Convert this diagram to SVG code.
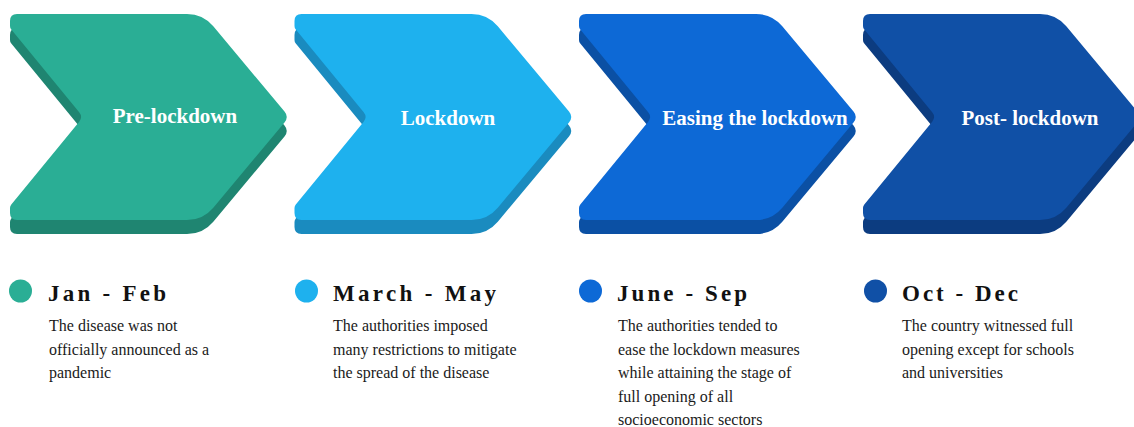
<svg xmlns="http://www.w3.org/2000/svg" xmlns:xlink="http://www.w3.org/1999/xlink" width="1134" height="427" viewBox="0 0 1134 427">
  <style>
    .title { font-family: "Liberation Serif", "Times New Roman", serif; font-weight: bold; font-size: 21px; fill: #ffffff; text-anchor: middle; }
    .head { font-family: "Liberation Serif", "Times New Roman", serif; font-weight: bold; font-size: 23px; fill: #111111; }
    .desc { font-family: "Liberation Serif", "Times New Roman", serif; font-size: 16px; fill: #1a1a1a; }
  </style>
  <defs>
    <path id="chev" d="M7,0 H177 Q193,0 203.3,12.3 L274.5,97.6 Q279,103 274.5,108.4 L203.3,193.7 Q193,206 177,206 H7 Q0,206 0,199 V194 Q0,192 1.3,190.4 L69.2,107.7 Q73,103 69.2,98.3 L1.3,15.6 Q0,14 0,12 V7 Q0,0 7,0 Z"/>
  </defs>
  <rect width="1134" height="427" fill="#ffffff"/>

  <g id="stage1">
    <use xlink:href="#chev" href="#chev" transform="translate(10,28)" fill="#1F8571"/>
    <use xlink:href="#chev" href="#chev" transform="translate(10,14)" fill="#2AAE95"/>
    <text class="title" x="175" y="123">Pre-lockdown</text>
    <circle cx="20.5" cy="291" r="11.5" fill="#2AAE95"/>
    <text class="head" x="48" y="301" textLength="118" lengthAdjust="spacing">Jan - Feb</text>
    <text class="desc" x="49" y="331">The disease was not</text>
    <text class="desc" x="49" y="354.5">officially announced as a</text>
    <text class="desc" x="49" y="378">pandemic</text>
  </g>

  <g id="stage2">
    <use xlink:href="#chev" href="#chev" transform="translate(294.5,28)" fill="#1A8BBF"/>
    <use xlink:href="#chev" href="#chev" transform="translate(294.5,14)" fill="#1EB1EE"/>
    <text class="title" x="448" y="125">Lockdown</text>
    <circle cx="306.5" cy="291" r="11.5" fill="#1EB1EE"/>
    <text class="head" x="333" y="301" textLength="163" lengthAdjust="spacing">March - May</text>
    <text class="desc" x="333" y="331">The authorities imposed</text>
    <text class="desc" x="333" y="354.5">many restrictions to mitigate</text>
    <text class="desc" x="333" y="378">the spread of the disease</text>
  </g>

  <g id="stage3">
    <use xlink:href="#chev" href="#chev" transform="translate(579,28)" fill="#0B50A4"/>
    <use xlink:href="#chev" href="#chev" transform="translate(579,14)" fill="#0D69D6"/>
    <text class="title" x="755" y="125">Easing the lockdown</text>
    <circle cx="590.5" cy="291" r="11.5" fill="#0D69D6"/>
    <text class="head" x="617" y="301" textLength="130" lengthAdjust="spacing">June - Sep</text>
    <text class="desc" x="618" y="331">The authorities tended to</text>
    <text class="desc" x="618" y="354.5">ease the lockdown measures</text>
    <text class="desc" x="618" y="378">while attaining the stage of</text>
    <text class="desc" x="618" y="401.5">full opening of all</text>
    <text class="desc" x="618" y="425">socioeconomic sectors</text>
  </g>

  <g id="stage4">
    <use xlink:href="#chev" href="#chev" transform="translate(863,28)" fill="#0C3C80"/>
    <use xlink:href="#chev" href="#chev" transform="translate(863,14)" fill="#1050A6"/>
    <text class="title" x="1030" y="125">Post- lockdown</text>
    <circle cx="875.5" cy="291" r="11.5" fill="#1050A6"/>
    <text class="head" x="902" y="301" textLength="116" lengthAdjust="spacing">Oct - Dec</text>
    <text class="desc" x="902" y="331">The country witnessed full</text>
    <text class="desc" x="902" y="354.5">opening except for schools</text>
    <text class="desc" x="902" y="378">and universities</text>
  </g>

  <g id="connectors"></g>
</svg>
